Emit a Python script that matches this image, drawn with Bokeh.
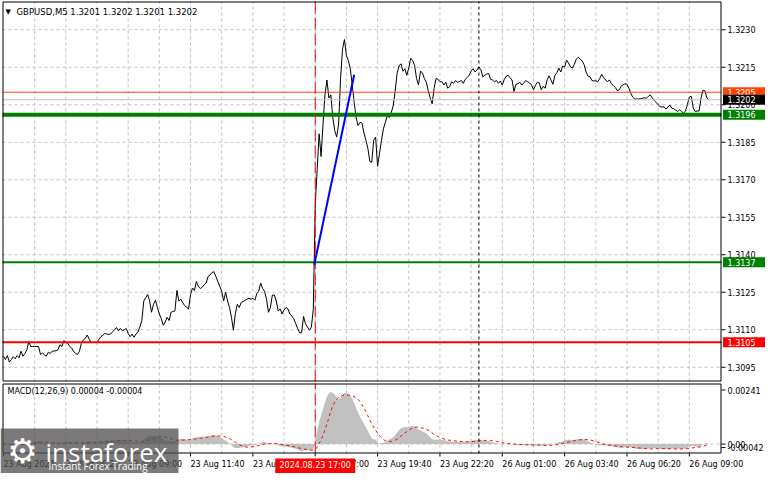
import numpy as np
import pandas as pd
from bokeh.plotting import figure
from bokeh.models import Range1d
from bokeh.core.properties import value
from bokeh.layouts import column
from bokeh.embed import file_html
from bokeh.resources import INLINE

# ---------------- data ----------------
chart_title = "GBPUSD,M5  1.3201 1.3202 1.3201 1.3202"
macd_title = "MACD(12,26,9) 0.00004 -0.00004"

# M5 closes, 23 Aug 03:40 -> 23 Aug 16:55
close_before = [
    1.30994, 1.30981, 1.30997, 1.30971, 1.30980, 1.30992, 1.30984, 1.30997, 1.30988, 1.31014,
    1.30994, 1.31005, 1.31020, 1.31053, 1.31033, 1.31033, 1.31033, 1.31033, 1.31033, 1.31001,
    1.31007, 1.31000, 1.30994, 1.31010, 1.31005, 1.31014, 1.31015, 1.31016, 1.31020, 1.31040,
    1.31033, 1.31057, 1.31050, 1.31046, 1.31033, 1.31027, 1.31014, 1.31005, 1.31001, 1.31014,
    1.31046, 1.31059, 1.31066, 1.31079, 1.31062, 1.31049, 1.31049, 1.31049, 1.31049, 1.31062,
    1.31072, 1.31078, 1.31085, 1.31083, 1.31081, 1.31083, 1.31092, 1.31100, 1.31109, 1.31096,
    1.31105, 1.31096, 1.31100, 1.31105, 1.31085, 1.31072, 1.31083, 1.31070, 1.31083, 1.31090,
    1.31111, 1.31137, 1.31215, 1.31228, 1.31241, 1.31215, 1.31170, 1.31202, 1.31218, 1.31189,
    1.31163, 1.31144, 1.31118, 1.31131, 1.31150, 1.31137, 1.31170, 1.31173, 1.31176, 1.31257,
    1.31215, 1.31222, 1.31209, 1.31196, 1.31190, 1.31183, 1.31241, 1.31267, 1.31257, 1.31293,
    1.31274, 1.31265, 1.31270, 1.31280, 1.31287, 1.31313, 1.31319, 1.31329, 1.31332, 1.31313,
    1.31293, 1.31274, 1.31254, 1.31215, 1.31250, 1.31215, 1.31189, 1.31150, 1.31098, 1.31165,
    1.31202, 1.31189, 1.31209, 1.31213, 1.31218, 1.31222, 1.31226, 1.31222, 1.31226, 1.31218,
    1.31244, 1.31254, 1.31287, 1.31265, 1.31254, 1.31222, 1.31170, 1.31189, 1.31239, 1.31239,
    1.31215, 1.31176, 1.31183, 1.31163, 1.31179, 1.31189, 1.31183, 1.31163, 1.31155, 1.31144,
    1.31124, 1.31105, 1.31088, 1.31088, 1.31153, 1.31124, 1.31111, 1.31098, 1.31110, 1.31180,
]
# 23 Aug 17:00 -> 21:25
close_spike = [
    1.31599, 1.31741, 1.31884, 1.31793, 1.31923, 1.32040, 1.32099, 1.32027, 1.32040, 1.31949,
    1.31897, 1.31871, 1.31923, 1.32105, 1.32222, 1.32261, 1.32196, 1.32177, 1.32144, 1.32079,
    1.32008, 1.31949, 1.31917, 1.31930, 1.31926, 1.31887, 1.31858, 1.31826, 1.31774, 1.31770,
    1.31858, 1.31871, 1.31754, 1.31806, 1.31858, 1.31904, 1.31930, 1.31956, 1.31949, 1.31969,
    1.31995, 1.32053, 1.32125, 1.32155, 1.32164, 1.32134, 1.32144, 1.32118, 1.32147, 1.32186,
    1.32177, 1.32157, 1.32105, 1.32079,
]
# 23 Aug 21:30 -> 26 Aug 09:30
close_after = [
    1.32134, 1.32128, 1.32105, 1.32090, 1.32056, 1.32027, 1.32004, 1.32066, 1.32105, 1.32102,
    1.32092, 1.32092, 1.32079, 1.32090, 1.32066, 1.32073, 1.32092, 1.32086, 1.32097, 1.32090,
    1.32093, 1.32097, 1.32086, 1.32102, 1.32109, 1.32118, 1.32135, 1.32144, 1.32131, 1.32139,
    1.32151, 1.32141, 1.32112, 1.32118, 1.32123, 1.32125, 1.32102, 1.32099, 1.32092, 1.32097,
    1.32086, 1.32095, 1.32079, 1.32101, 1.32114, 1.32118, 1.32108, 1.32099, 1.32053, 1.32082,
    1.32084, 1.32090, 1.32079, 1.32087, 1.32097, 1.32092, 1.32087, 1.32079, 1.32060, 1.32077,
    1.32090, 1.32087, 1.32060, 1.32073, 1.32066, 1.32099, 1.32116, 1.32099, 1.32082, 1.32118,
    1.32128, 1.32147, 1.32131, 1.32155, 1.32151, 1.32179, 1.32167, 1.32151, 1.32147, 1.32162,
    1.32183, 1.32190, 1.32183, 1.32175, 1.32160, 1.32131, 1.32114, 1.32112, 1.32097, 1.32095,
    1.32096, 1.32092, 1.32105, 1.32122, 1.32108, 1.32099, 1.32093, 1.32099, 1.32084, 1.32077,
    1.32069, 1.32056, 1.32060, 1.32074, 1.32080, 1.32084, 1.32082, 1.32066, 1.32044, 1.32030,
    1.32023, 1.32023, 1.32023, 1.32025, 1.32026, 1.32028, 1.32026, 1.32034, 1.32039, 1.32027,
    1.32017, 1.32009, 1.32001, 1.31992, 1.31991, 1.31992, 1.31983, 1.31991, 1.31999, 1.31986,
    1.31984, 1.31978, 1.31973, 1.31980, 1.31973, 1.31967, 1.31974, 1.32001, 1.32031, 1.32034,
    1.31986, 1.31973, 1.31975, 1.31975, 1.32027, 1.32058, 1.32056, 1.32027, 1.32020,
]

price_ticks = [1.3095, 1.3110, 1.3125, 1.3140, 1.3155, 1.3170, 1.3185, 1.3200, 1.3215, 1.3230]
price_view = [1.30893, 1.32413]

time_label_bars = [0, 32, 64, 96, 128, 160, 192, 224, 256, 288, 320, 352]
time_labels = ["23 Aug 2024", "23 Aug 06:20", "23 Aug 09:00", "23 Aug 11:40", "23 Aug 14:20",
               "23 Aug 17:00", "23 Aug 19:40", "23 Aug 22:20", "26 Aug 01:00", "26 Aug 03:40",
               "26 Aug 06:20", "26 Aug 09:00"]
grid_bars = list(range(16, 368, 16))
bar_view = [-0.5, 368.5]

event_bar = 160
event_label = "2024.08.23 17:00"
day_separator_bar = 244

ask_level = 1.3205
bid_level = 1.3202
level_main = 1.3196
level_mid = 1.3137
level_low = 1.3105

trend_bars = [159.5, 180.0]
trend_prices = [1.3136, 1.3212]

macd_view = [-0.00042, 0.00270]
macd_tick_values = [0.00241, 0.0, -0.00042]
macd_tick_texts = ["0.00241", "0.00", "-0.00042"]

# ---------------- derived ----------------
close = close_before + close_spike + close_after
idx = list(range(len(close)))


def ema(vals, n):
    a = 2.0 / (n + 1)
    out = [vals[0]]
    for v in vals[1:]:
        out.append(out[-1] + a * (v - out[-1]))
    return np.array(out)


macd_main = ema(close, 12) - ema(close, 26)
macd_signal = pd.Series(macd_main).rolling(9, min_periods=1).mean().values

# ---------------- layout (pixels) ----------------
FONT = "DejaVu Sans"
GRID = "#C0C0C0"
W = 765
H_A, H_B = 382, 91
PL, PR = 2, 721             # panel left / right edge
A_TOP, A_BOT = 1, 381       # price panel rows
B_TOP, B_BOT = 1, 71        # macd panel rows

pxb = (PR - PL) / (bar_view[1] - bar_view[0])
X0 = bar_view[0] - PL / pxb
X1 = bar_view[0] + (W - PL) / pxb
ppu1 = (A_BOT - A_TOP) / (price_view[1] - price_view[0])
ppu2 = (B_BOT - B_TOP) / (macd_view[1] - macd_view[0])
YA1 = price_view[1] + A_TOP / ppu1
YA0 = YA1 - H_A / ppu1
YB1 = macd_view[1] + B_TOP / ppu2
YB0 = YB1 - H_B / ppu2


def dx(px):            # horizontal pixel distance -> bars
    return px / pxb


def fx(px):            # canvas x -> bar coordinate
    return X0 + px / pxb


def fy1(py):
    return YA1 - py / ppu1


def fy2(py):
    return YB1 - py / ppu2


def make_fig(h, y0, y1, x_range=None):
    f = figure(width=W, height=h,
               x_range=x_range if x_range is not None else Range1d(X0, X1),
               y_range=Range1d(y0, y1),
               output_backend="svg", toolbar_location=None,
               x_axis_location=None, y_axis_location=None,
               min_border_left=0, min_border_right=0, min_border_top=0, min_border_bottom=0)
    f.grid.visible = False
    f.outline_line_color = None
    f.background_fill_color = "white"
    f.border_fill_color = "white"
    return f


def txt(f, xs, ys, texts, size="8px", color="black", align="left", baseline="middle", font=FONT):
    f.text(x=xs, y=ys, text=texts, text_font=value(font), text_font_size=value(size),
           text_color=color, text_align=align, text_baseline=baseline)


# ================= price panel =================
p = make_fig(H_A, YA0, YA1)
lo, hi = price_view
b0, b1 = bar_view

# grid
p.segment(x0=[b0] * len(price_ticks), x1=[b1] * len(price_ticks), y0=price_ticks, y1=price_ticks,
          line_color=GRID, line_dash="3 3", line_width=1)
p.segment(x0=grid_bars, x1=grid_bars, y0=[lo] * len(grid_bars), y1=[hi] * len(grid_bars),
          line_color=GRID, line_dash="3 3", line_width=1)

# price
p.line(idx, close, line_color="black", line_width=1)

# horizontal levels
for loc, col, w in [(ask_level, "#FF4500", 1), (bid_level, "#C0C0C0", 1),
                    (level_low, "#FF0000", 2), (level_mid, "#008000", 2), (level_main, "#008000", 4)]:
    p.line([b0, b1], [loc, loc], line_color=col, line_width=w)

# vertical markers
p.line([event_bar, event_bar], [lo, hi], line_color="#FF0000", line_width=1, line_dash="12 4")
p.line([day_separator_bar, day_separator_bar], [lo, hi], line_color="black", line_width=1,
       line_dash="3 3")

# trend line
p.line(trend_bars, trend_prices, line_color="#0000FF", line_width=2)

# frame (on pixel centres so it stays crisp)
p.quad(left=[b0 + dx(0.5)], right=[b1 - dx(0.5)], bottom=[lo + 0.5 / ppu1], top=[hi - 0.5 / ppu1],
       fill_color=None, line_color="black", line_width=1)

# price scale
p.segment(x0=[b1] * len(price_ticks), x1=[b1 + dx(4)] * len(price_ticks),
          y0=price_ticks, y1=price_ticks, line_color="black", line_width=1)
txt(p, [b1 + dx(6)] * len(price_ticks), price_ticks, [f"{t:.4f}" for t in price_ticks])

for lvl, bg in [(ask_level, "#FF4500"), (bid_level, "#000000"), (level_main, "#008000"),
                (level_mid, "#008000"), (level_low, "#FF0000")]:
    p.quad(left=[b1 + dx(1.5)], right=[X1], bottom=[lvl - 5 / ppu1], top=[lvl + 5 / ppu1],
           fill_color=bg, line_color=None)
    txt(p, [b1 + dx(6)], [lvl], [f"{lvl:.4f}"], color="white")

# title
txt(p, [fx(5)], [fy1(11)], ["\u25BC"], size="7px")
txt(p, [fx(16)], [fy1(11)], [chart_title], size="8.5px")

# ================= MACD panel =================
p2 = make_fig(H_B, YB0, YB1, x_range=p.x_range)
mlo, mhi = macd_view

p2.segment(x0=grid_bars, x1=grid_bars, y0=[mlo] * len(grid_bars), y1=[mhi] * len(grid_bars),
           line_color=GRID, line_dash="3 3", line_width=1)
p2.line([b0, b1], [0.0, 0.0], line_color=GRID, line_dash="3 3", line_width=1)

# histogram of the MACD main line (drawn as one filled area: bars are only 2 px wide)
p2.varea(x=idx, y1=[0.0] * len(idx), y2=macd_main, fill_color="#C0C0C0")
p2.line(idx, macd_signal, line_color="#FF0000", line_width=1, line_dash="3 3")

p2.line([event_bar, event_bar], [mlo, mhi], line_color="#FF0000", line_width=1, line_dash="12 4")
p2.line([day_separator_bar, day_separator_bar], [mlo, mhi], line_color="black", line_width=1,
        line_dash="3 3")

p2.quad(left=[b0 + dx(0.5)], right=[b1 - dx(0.5)], bottom=[mlo + 0.5 / ppu2],
        top=[mhi - 0.5 / ppu2], fill_color=None, line_color="black", line_width=1)

# macd scale (MT keeps the lowest label inside the window)
clamp = 6 / ppu2
macd_tick_pos = [v if v > mlo else v + clamp for v in macd_tick_values]
p2.segment(x0=[b1] * 3, x1=[b1 + dx(4)] * 3, y0=macd_tick_pos, y1=macd_tick_pos,
           line_color="black", line_width=1)
txt(p2, [b1 + dx(6)] * 3, macd_tick_pos, macd_tick_texts)

# time scale
p2.segment(x0=time_label_bars, x1=time_label_bars, y0=[mlo] * len(time_label_bars),
           y1=[mlo - 3 / ppu2] * len(time_label_bars), line_color="black", line_width=1)
txt(p2, time_label_bars, [fy2(B_BOT + 11)] * len(time_label_bars), time_labels)

# event time tag
half = dx(40)
p2.quad(left=[event_bar - half], right=[event_bar + half], bottom=[fy2(H_B)],
        top=[fy2(B_BOT + 5)], fill_color="#FF0000", line_color=None)
txt(p2, [event_bar], [fy2(B_BOT + 12)], [event_label], color="white", align="center")

txt(p2, [fx(7)], [fy2(B_TOP + 8)], [macd_title])

# logo watermark
p2.quad(left=[X0], right=[fx(178)], bottom=[YB0], top=[fy2(46)], fill_color="#4d4d4d",
        fill_alpha=0.75, line_color=None)
txt(p2, [fx(22)], [fy2(68)], ["\u2699"], size="34px", color="white", align="center")
txt(p2, [fx(45)], [fy2(69)], ["instaforex"], size="26px", color="white",
    baseline="alphabetic", font="Open Sans")
txt(p2, [fx(48)], [fy2(83)], ["Instant Forex Trading"], size="10px", color="white",
    font="Open Sans")

layout = column(p, p2, spacing=0)
open("out.html", "w").write(file_html(layout, INLINE))
